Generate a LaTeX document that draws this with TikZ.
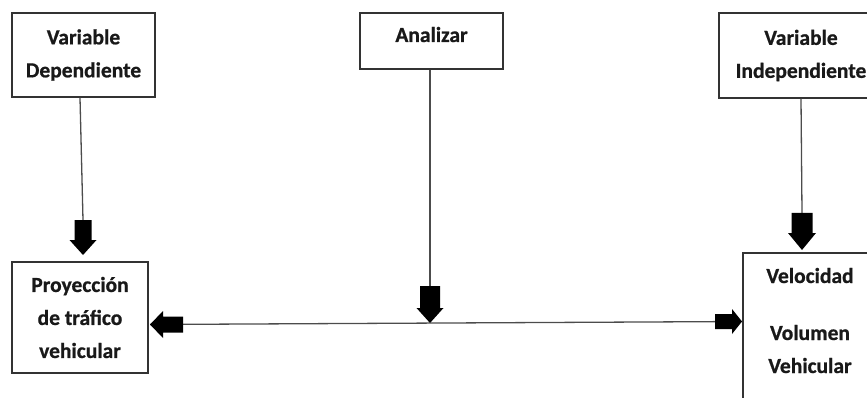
\documentclass[tikz,border=0pt]{standalone}
\usepackage{fontspec}
\setmainfont{Carlito}[BoldFeatures={FakeBold=0.8}]
\usetikzlibrary{calc}
% tip, angle, total length, head length, shaft half-width, head half-width
\newcommand\blockarrow[6]{%
  \fill[arrowfill, shift={(#1)}, rotate=#2] (0,0) -- (-#4,#6) -- (-#4,#5) -- (-#3,#5) -- (-#3,-#5) -- (-#4,-#5) -- (-#4,-#6) -- cycle;}
\begin{document}
\begin{tikzpicture}[x=1pt,y=1pt,
  txt/.style={font=\fontsize{21.5}{33}\selectfont\bfseries, align=center, text=black!90},
  box/.style={txt, draw=black!80, line width=1.5pt, inner sep=0pt},
  conn/.style={draw=black!70, line width=1.3pt},
  arrowfill/.style={fill=black}]
\clip (0,0) rectangle (867,-398);
% boxes
\node[box, minimum width=143, minimum height=84] (vd) at (83.5,-55) {Variable\\Dependiente};
\node[box, minimum width=143, text height=29, text depth=27] (an) at (431.5,-41) {Analizar};
\node[box, minimum width=164, minimum height=85] (vi) at (801,-55.5) {Variable\\Independiente};
\node[box, minimum width=136, minimum height=111] (py) at (80,-317.5) {Proyección\\de tráfico\\vehicular};
\node[box, minimum width=136, minimum height=170, anchor=north west] (ve) at (742,-252) {};
\node[txt, anchor=base] (vel) at (810,-283) {Velocidad};
\node[txt, anchor=base] (vol) at (810,-340) {Volumen};
\node[txt, anchor=base] (veh) at (810,-373) {Vehicular};
% connector end points
\coordinate (a1) at (83,-255);
\coordinate (a2) at (430,-323);
\coordinate (a5) at (802,-250);
\coordinate (hl) at (150,-324.5);
\coordinate (hr) at (742,-321.5);
% connectors
\draw[conn] ($(vd.south)+(-3.5,0)$) -- ($(a1)+(0,35)$);
\draw[conn] (an.south -| a2) -- ($(a2)+(0,37)$);
\draw[conn] (vi.south) -- ($(a5)+(0,37)$);
\draw[conn] (hl) -- (hr);
% block arrow heads
\blockarrow{a1}{-90}{35}{15}{8.5}{13.5}
\blockarrow{a2}{-90}{37}{15}{10}{13.5}
\blockarrow{a5}{-90}{37}{17}{10.5}{14}
\blockarrow{hl}{180}{33}{13}{8}{13.5}
\blockarrow{hr}{0}{27}{10}{7.5}{12.5}
\end{tikzpicture}
\end{document}
